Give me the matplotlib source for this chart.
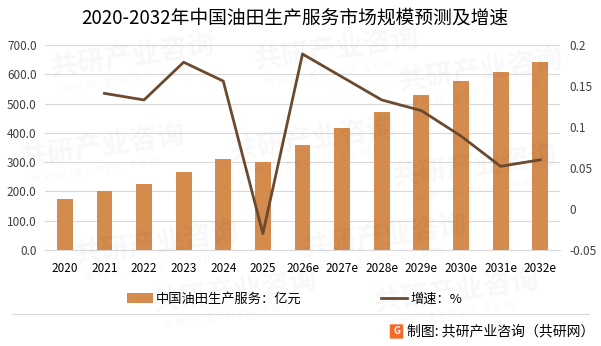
import matplotlib.pyplot as plt
from matplotlib.lines import Line2D
from matplotlib.patches import Patch, FancyBboxPatch

plt.rcParams['font.family'] = ['Noto Sans CJK SC', 'DejaVu Sans']

years = ['2020', '2021', '2022', '2023', '2024', '2025', '2026e', '2027e',
         '2028e', '2029e', '2030e', '2031e', '2032e']
scale = [174, 201, 225, 266, 311, 301, 359, 417, 472, 529, 577, 608, 642]
# growth starts from 2021
growth = [None, 0.141, 0.133, 0.179, 0.156, -0.030, 0.189, 0.161,
          0.133, 0.120, 0.089, 0.052, 0.060]

bar_color = '#D38B4E'
line_color = '#6B4A2F'

fig = plt.figure(figsize=(6.01, 3.46), dpi=100)
ax = fig.add_axes([45 / 601, 1 - 250 / 346, 515 / 601, 205 / 346])
ax2 = ax.twinx()

x = list(range(len(years)))
ax.bar(x, scale, width=0.4, color=bar_color, zorder=2)
ax.set_ylim(0, 700)
ax.set_yticks([0, 100, 200, 300, 400, 500, 600, 700])
ax.set_yticklabels(['%.1f' % v for v in ax.get_yticks()])
ax.set_xlim(-0.5, len(years) - 0.5)
ax.set_xticks(x)
ax.set_xticklabels(years)
ax.grid(axis='y', color='#D9D9D9', linewidth=0.8, zorder=0)

gx = [i for i, g in zip(x, growth) if g is not None]
gy = [g for g in growth if g is not None]
ax2.plot(gx, gy, color=line_color, linewidth=2.0, zorder=3)
ax2.set_ylim(-0.05, 0.2)
ax2.set_yticks([-0.05, 0, 0.05, 0.1, 0.15, 0.2])
ax2.set_yticklabels(['-0.05', '0', '0.05', '0.1', '0.15', '0.2'])

for a in (ax, ax2):
    for s in a.spines.values():
        s.set_visible(False)
    a.tick_params(length=0, labelsize=8.5, colors='#404040')
ax.spines['bottom'].set_visible(True)
ax.spines['bottom'].set_color('#D9D9D9')
ax.tick_params(axis='x', pad=9, colors='#000000')
ax.tick_params(axis='y', pad=6)
ax2.tick_params(axis='y', pad=7)

# faint watermarks
for wx, wy in [(0.08, 0.84), (0.42, 0.86), (0.66, 0.80), (0.03, 0.58), (0.38, 0.60),
               (0.65, 0.52), (0.12, 0.30), (0.50, 0.32), (0.25, 0.16), (0.62, 0.16)]:
    fig.text(wx, wy, '共研产业咨询', fontsize=20, fontweight='bold', color='#000000',
             alpha=0.03, rotation=8, ha='left', va='center')
    fig.text(wx + 0.02, wy - 0.07, 'w w w . g o n y n . c o m', fontsize=9,
             color='#000000', alpha=0.03, rotation=8, ha='left', va='center')

fig.text(0.49, 1 - 18 / 346, '2020-2032年中国油田生产服务市场规模预测及增速',
         fontsize=13.5, ha='center', va='center', color='#000000')

handles = [Patch(facecolor=bar_color), Line2D([0], [0], color=line_color, linewidth=2.0)]
labels = ['中国油田生产服务：亿元', '增速：%']
fig.legend(handles, labels, loc='center', bbox_to_anchor=(0.49, 1 - 299 / 346),
           ncol=2, frameon=False, fontsize=9.5, columnspacing=6.0,
           handlelength=2.0, handletextpad=0.2)

fig.add_artist(Line2D([12 / 601, 589 / 601], [1 - 314 / 346, 1 - 314 / 346],
                      color='#D9D9D9', linewidth=0.8))

icon = FancyBboxPatch((391 / 601, 1 - 338 / 346), 11 / 601, 13 / 346,
                      boxstyle='round,pad=0.002', facecolor='#F26B2A',
                      edgecolor='none', transform=fig.transFigure)
fig.add_artist(icon)
fig.text(396.5 / 601, 1 - 331.5 / 346, 'G', fontsize=7, fontweight='bold',
         color='white', ha='center', va='center')
fig.text(407 / 601, 1 - 331 / 346, '制图: 共研产业咨询（共研网）', fontsize=10,
         ha='left', va='center', color='#000000')

fig.savefig('out.png', dpi=100)
